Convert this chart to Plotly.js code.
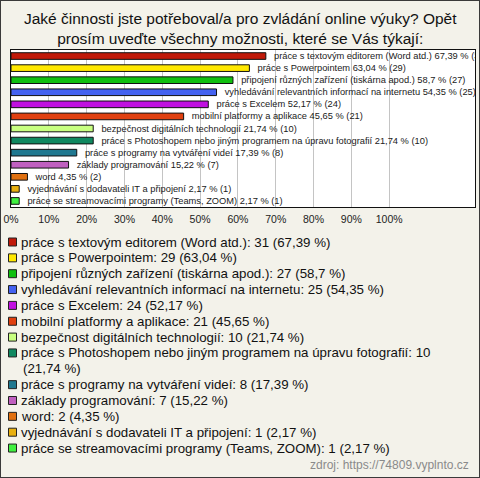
<!DOCTYPE html>
<html>
<head>
<meta charset="utf-8">
<script src="https://cdn.plot.ly/plotly-3.0.1.min.js"></script>
<style>
html,body{margin:0;padding:0;background:#f3f2ea;}
#chart{width:480px;height:478px;box-sizing:border-box;border:1px solid #3a3a3a;}
</style>
</head>
<body>
<div id="chart"></div>
<script>
// ---- data ----
const barLabels = [
  "práce s textovým editorem (Word atd.)",
  "práce s Powerpointem",
  "připojení různých zařízení (tiskárna apod.)",
  "vyhledávání relevantních informací na internetu",
  "práce s Excelem",
  "mobilní platformy a aplikace",
  "bezpečnost digitálních technologií",
  "práce s Photoshopem nebo jiným programem na úpravu fotografií",
  "práce s programy na vytváření videí",
  "základy programování",
  "word",
  "vyjednávání s dodavateli IT a připojení",
  "práce se streamovacími programy (Teams, ZOOM)"
];
const counts = [31, 29, 27, 25, 24, 21, 10, 10, 8, 7, 2, 1, 1];
const percents = [67.39, 63.04, 58.7, 54.35, 52.17, 45.65, 21.74, 21.74, 17.39, 15.22, 4.35, 2.17, 2.17];
const colors = ["#c01a0a", "#ffe800", "#10c010", "#4462f0", "#c010e0", "#e04010",
                "#c8ff80", "#108860", "#207890", "#c060c0", "#e07010", "#e8b010", "#40f040"];
const tickValues = [0, 10, 20, 30, 40, 50, 60, 70, 80, 90, 100];
const tickLabels = ["0%", "10%", "20%", "30%", "40%", "50%", "60%", "70%", "80%", "90%", "100%"];
const titleText = "Jaké činnosti jste potřeboval/a pro zvládání online výuky? Opět<br>prosím uveďte všechny možnosti, které se Vás týkají:";
const sourceText = "zdroj: https://74809.vyplnto.cz";

// ---- helpers ----
const fmt = v => String(v).replace(".", ",");
const W = 478, H = 476;          // inner size (inside 1px border)
const M = {l: 10, r: 4, t: 49, b: 270};
const pw = W - M.l - M.r, ph = H - M.t - M.b;
const px = x => (x - 1 - M.l) / pw;          // page px -> paper x
const py = y => 1 - (y - 1 - M.t) / ph;      // page px -> paper y
const FONT = "Liberation Sans, Arial, sans-serif";

const cats = barLabels.map((_, i) => "c" + i);

const trace = {
  type: "bar",
  orientation: "h",
  x: percents,
  y: cats,
  width: 0.55,
  marker: {color: colors, line: {color: "#111", width: 1}},
  text: barLabels.map((l, i) => "\u00a0\u00a0" + l + " " + fmt(percents[i]) + " % (" + counts[i] + ")"),
  textposition: "outside",
  constraintext: "none",
  textangle: 0,
  cliponaxis: true,
  textfont: {family: FONT, size: 9.3, color: "#1a1a1a"},
  hoverinfo: "none",
  showlegend: false
};

// legend (built from the data arrays)
const annotations = [];
const shapes = [];
let line = 0;
const y0 = 242, lh = 15.85;
barLabels.forEach((l, i) => {
  const full = l + ": " + counts[i] + " (" + fmt(percents[i]) + " %)";
  let parts = [full];
  if (full.length > 70) {
    const cut = full.lastIndexOf(" ", 70);
    parts = [full.slice(0, cut), full.slice(cut + 1)];
  }
  const yc = y0 + line * lh;
  shapes.push({type: "rect", xref: "paper", yref: "paper",
    x0: px(8.5), x1: px(16.5), y0: py(yc - 4), y1: py(yc + 4),
    fillcolor: colors[i], line: {color: "#222", width: 1}});
  parts.forEach((p, k) => {
    annotations.push({xref: "paper", yref: "paper", x: px(k === 0 ? 19 : 21), y: py(y0 + line * lh),
      xanchor: "left", yanchor: "middle", showarrow: false, text: p,
      font: {family: FONT, size: 13.3, color: "#111"}});
    line++;
  });
});
annotations.push({xref: "paper", yref: "paper", x: px(471), y: py(465), xanchor: "right", yanchor: "middle",
  showarrow: false, text: sourceText,
  font: {family: FONT, size: 12, color: "#8a8a8a"}});
// title
annotations.push({xref: "paper", yref: "paper", x: px(240), y: py(28.5), xanchor: "center", yanchor: "middle",
  showarrow: false, text: titleText, align: "center",
  font: {family: FONT, size: 15.5, color: "#111"}});

const layout = {
  width: W, height: H,
  margin: M,
  paper_bgcolor: "#f3f2ea",
  plot_bgcolor: "#ffffff",
  xaxis: {range: [0, 122.7], tickvals: tickValues, ticktext: tickLabels, showgrid: true,
          gridcolor: "#c4c4c4", gridwidth: 1, zeroline: false, showline: true, mirror: true,
          linecolor: "#111", linewidth: 1, fixedrange: true, ticks: "", ticklabelstandoff: 2,
          tickfont: {family: FONT, size: 10.5, color: "#222"}},
  yaxis: {type: "category", autorange: "reversed", showticklabels: false, showgrid: false,
          zeroline: false, showline: true, mirror: true, linecolor: "#111", linewidth: 1, ticks: ""},
  barmode: "overlay",
  annotations: annotations,
  shapes: shapes,
  showlegend: false
};

Plotly.newPlot("chart", [trace], layout, {staticPlot: true, displayModeBar: false});
</script>
</body>
</html>
